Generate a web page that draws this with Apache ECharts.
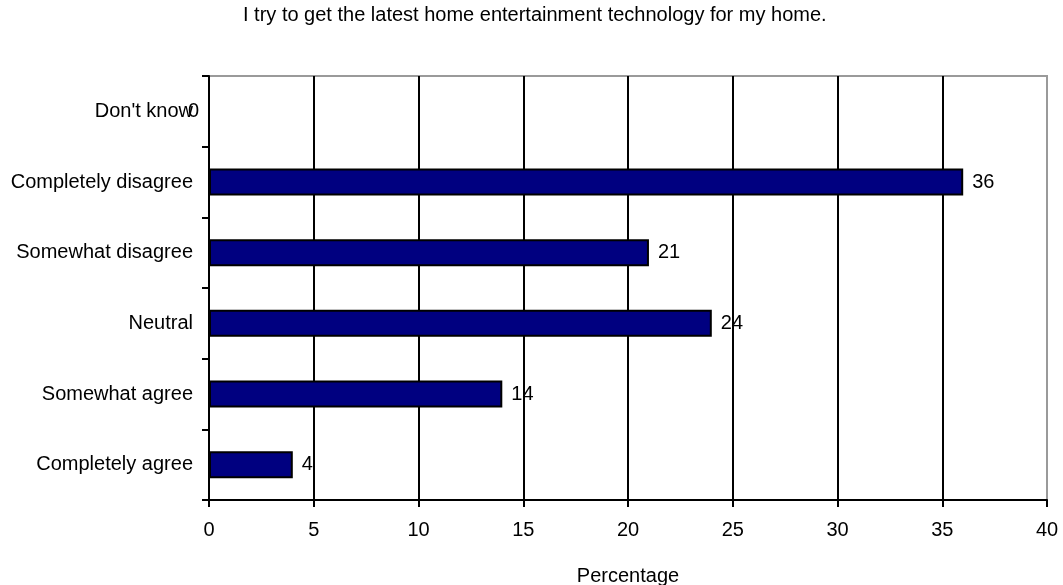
<!DOCTYPE html>
<html>
<head>
<meta charset="utf-8">
<script src="https://cdn.jsdelivr.net/npm/echarts@6/dist/echarts.min.js"></script>
<style>
  html, body { margin: 0; padding: 0; background: #fff; }
  #chart { width: 1063px; height: 585px; }
</style>
</head>
<body>
<div id="chart"></div>
<script>
// Survey responses, listed bottom to top on the category axis
const categories = ['Completely agree', 'Somewhat agree', 'Neutral', 'Somewhat disagree', 'Completely disagree', "Don't know"];
const percentages = [4, 14, 24, 21, 36, 0];
const xTicks = [0, 5, 10, 15, 20, 25, 30, 35, 40];

const titleText = 'I try to get the latest home entertainment technology for my home.';
const xAxisTitle = 'Percentage';

const FONT = '"Liberation Sans", Arial, sans-serif';
const FS = 20;

// gridlines are black except the last one, which sits on the grey frame
const splitColors = xTicks.map((t, i) => i === xTicks.length - 1 ? '#9a9a9a' : '#000');

const chart = echarts.init(document.getElementById('chart'), null, { renderer: 'canvas' });

chart.setOption({
  animation: false,
  backgroundColor: '#fff',
  title: {
    text: titleText,
    left: 238,
    top: 0,
    textStyle: { fontFamily: FONT, fontSize: 20, fontWeight: 'normal', color: '#000' }
  },
  grid: {
    left: 209, right: 16, top: 76, bottom: 85,
    outerBoundsMode: 'none',
    containLabel: false,
    show: true, borderColor: '#9a9a9a', borderWidth: 2, backgroundColor: '#fff'
  },
  xAxis: {
    type: 'value',
    min: xTicks[0],
    max: xTicks[xTicks.length - 1],
    interval: 5,
    name: xAxisTitle,
    nameLocation: 'middle',
    nameGap: 66,
    nameTextStyle: { fontFamily: FONT, fontSize: FS, color: '#000' },
    axisLine: { show: true, lineStyle: { color: '#000', width: 2 } },
    axisTick: { show: true, length: 7, lineStyle: { color: '#000', width: 2 } },
    axisLabel: { fontFamily: FONT, fontSize: FS, color: '#000', margin: 20 },
    splitLine: { show: true, lineStyle: { color: splitColors, width: 2 } }
  },
  yAxis: {
    type: 'category',
    data: categories,
    axisLine: { show: true, lineStyle: { color: '#000', width: 2 } },
    axisTick: { show: true, length: 7, lineStyle: { color: '#000', width: 2 } },
    axisLabel: { fontFamily: FONT, fontSize: FS, color: '#000', margin: 16 },
    splitLine: { show: false }
  },
  series: [{
    type: 'bar',
    data: percentages.map(v => ({
      value: v,
      // a zero-length bar carries its label back over the axis
      label: v === 0 ? { offset: [-31, 0] } : undefined
    })),
    barWidth: 27,
    itemStyle: { color: '#000080', borderColor: '#000', borderWidth: 2 },
    label: {
      show: true,
      position: 'right',
      distance: 9,
      fontFamily: FONT,
      fontSize: FS,
      color: '#000'
    }
  }]
});
</script>
</body>
</html>
